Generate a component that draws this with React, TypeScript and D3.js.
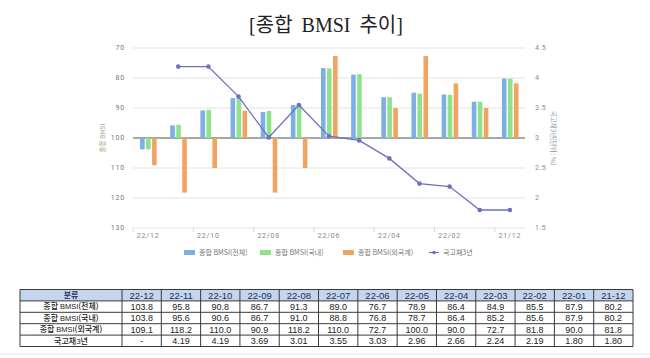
import React from 'react';
import * as d3 from 'd3';

const categories = ['22-12', '22-11', '22-10', '22-09', '22-08', '22-07', '22-06', '22-05', '22-04', '22-03', '22-02', '22-01', '21-12'];
const bmsiTotal = [103.8, 95.8, 90.8, 86.7, 91.3, 89.0, 76.7, 78.9, 86.4, 84.9, 85.5, 87.9, 80.2];
const bmsiDomestic = [103.8, 95.6, 90.6, 86.7, 91.0, 88.8, 76.8, 78.7, 86.4, 85.2, 85.6, 87.9, 80.2];
const bmsiForeign = [109.1, 118.2, 110.0, 90.9, 118.2, 110.0, 72.7, 100.0, 90.0, 72.7, 81.8, 90.0, 81.8];
const bond3y: (number | null)[] = [null, 4.19, 4.19, 3.69, 3.01, 3.55, 3.03, 2.96, 2.66, 2.24, 2.19, 1.80, 1.80];
const leftTicks = [70, 80, 90, 100, 110, 120, 130];
const rightTicks = [4.5, 4, 3.5, 3, 2.5, 2, 1.5];
const seriesNames = ['종합 BMSI(전체)', '종합 BMSI(국내)', '종합 BMSI(외국계)', '국고채3년'];
const rowSuffixes = ['(전체)', '(국내)', '(외국계)'];

const COLORS = ['#7dafe3', '#8fe28a', '#f0a462'];
const LINE_COLOR = '#6e6fc8';

export default function App() {
  const x = d3.scaleBand<string>().domain(categories).range([133, 525]).padding(0);
  const yL = d3.scaleLinear().domain([70, 130]).range([48, 228]);
  const yR = d3.scaleLinear().domain([4.5, 1.5]).range([48, 228]);
  const bw = x.bandwidth();
  const cx = (c: string) => (x(c) as number) + bw / 2;
  const barW = 4.6;
  const barStep = 6;
  const series = [bmsiTotal, bmsiDomestic, bmsiForeign];

  const linePts = categories
    .map((c, i) => ({ c, v: bond3y[i] }))
    .filter((d) => d.v !== null) as { c: string; v: number }[];
  const line = d3
    .line<{ c: string; v: number }>()
    .x((d) => cx(d.c))
    .y((d) => yR(d.v));

  // table
  const colX = d3.scaleBand<string>().domain(categories).range([122, 633]).padding(0);
  const rowKeys = ['h', 'r0', 'r1', 'r2', 'r3'];
  const tTop = 289.5;
  const tBot = 346.5;
  const rowY = d3.scaleBand<string>().domain(rowKeys).range([tTop, tBot]).padding(0);
  const rh = rowY.bandwidth();
  const tableRows: string[][] = [
    bmsiTotal.map((v) => v.toFixed(1)),
    bmsiDomestic.map((v) => v.toFixed(1)),
    bmsiForeign.map((v) => v.toFixed(1)),
    bond3y.map((v) => (v === null ? '-' : v.toFixed(2))),
  ];

  const tickFont = 'Roboto, "Noto Sans", sans-serif';
  const legendX = [184, 260, 343];
  const legendTextX = [199, 275, 358];

  return (
    <svg
      width={650}
      height={358}
      style={{ position: 'absolute', left: 0, top: 0, background: '#fff' }}
      fontFamily='"Noto Sans CJK KR", sans-serif'
    >
      <rect x={0} y={0} width={650} height={358} fill="#fff" />
      {/* title */}
      <text x={326} y={32} textAnchor="middle" fontSize={20} wordSpacing={4} fill="#222" fontFamily='"Liberation Serif", "Noto Sans CJK KR", serif'>
        [종합 BMSI 추이]
      </text>

      {/* gridlines */}
      {leftTicks.map((t) => (
        <line key={'g' + t} x1={133} x2={525} y1={yL(t)} y2={yL(t)} stroke={t === 100 ? '#8a8a8a' : '#e3e3e3'} strokeWidth={t === 100 ? 1.6 : 1} />
      ))}
      {/* x ticks */}
      {categories.map((c, i) =>
        i % 2 === 1 ? (
          <line key={'xt' + c} x1={(x(c) as number) + bw} x2={(x(c) as number) + bw} y1={228} y2={232} stroke="#d8d8d8" />
        ) : null
      )}
      <line x1={133} x2={133} y1={228} y2={232} stroke="#d8d8d8" />

      {/* left ticks */}
      {leftTicks.map((t) => (
        <text key={'l' + t} x={125} y={yL(t)} dy="0.35em" textAnchor="end" fontSize={7} letterSpacing={0.8} fill="#777" fontFamily={tickFont}>
          {t}
        </text>
      ))}
      {/* right ticks */}
      {rightTicks.map((t) => (
        <text key={'r' + t} x={535} y={yR(t)} dy="0.35em" textAnchor="start" fontSize={7} letterSpacing={0.5} fill="#888" fontFamily={tickFont}>
          {t}
        </text>
      ))}
      <text transform="translate(105,138) rotate(-90)" textAnchor="middle" fontSize={6.5} fill="#a9a37a">
        종합 BMSI
      </text>
      <text transform="translate(551,138) rotate(90)" textAnchor="middle" fontSize={6.5} fill="#8d9bab">
        국고채3년(단위 : %)
      </text>

      {/* x labels */}
      {categories.map((c, i) =>
        i % 2 === 0 ? (
          <text key={'xl' + c} x={cx(c)} y={238} textAnchor="middle" fontSize={7} letterSpacing={0.8} fill="#888" fontFamily={tickFont}>
            {c.replace('-', '/')}
          </text>
        ) : null
      )}

      {/* bars */}
      {series.map((s, si) =>
        s.map((v, i) => {
          const c = categories[i];
          const x0 = cx(c) - 8 + si * barStep;
          const y0 = Math.min(yL(v), yL(100));
          const h = Math.abs(yL(v) - yL(100));
          return <rect key={si + '-' + i} x={x0} y={y0} width={barW} height={h} fill={COLORS[si]} />;
        })
      )}

      {/* line */}
      <path d={line(linePts) || ''} fill="none" stroke={LINE_COLOR} strokeWidth={1.3} />
      {linePts.map((d) => (
        <circle key={'p' + d.c} cx={cx(d.c)} cy={yR(d.v)} r={2.3} fill={LINE_COLOR} />
      ))}

      {/* legend */}
      {[0, 1, 2].map((i) => (
        <g key={'lg' + i}>
          <rect x={legendX[i]} y={250} width={11} height={5} fill={COLORS[i]} />
          <text x={legendTextX[i]} y={255} fontSize={7} fill="#777">
            {seriesNames[i]}
          </text>
        </g>
      ))}
      <line x1={429} x2={439} y1={252.5} y2={252.5} stroke={LINE_COLOR} strokeWidth={1.2} />
      <circle cx={434} cy={252.5} r={1.8} fill={LINE_COLOR} />
      <text x={443} y={255} fontSize={7} fill="#777">
        {seriesNames[3]}
      </text>

      {/* table */}
      <rect x={20} y={rowY('h') as number} width={613} height={rh} fill="#c5d5ee" />
      {rowKeys.map((k) => (
        <line key={'hl' + k} x1={20} x2={633} y1={(rowY(k) as number) + rh} y2={(rowY(k) as number) + rh} stroke="#3a3a3a" strokeWidth={1} />
      ))}
      <line x1={20} x2={633} y1={tTop} y2={tTop} stroke="#3a3a3a" />
      <line x1={20} x2={20} y1={tTop} y2={tBot} stroke="#3a3a3a" />
      {categories.map((c) => (
        <line key={'vl' + c} x1={colX(c) as number} x2={colX(c) as number} y1={tTop} y2={tBot} stroke="#3a3a3a" />
      ))}
      <line x1={633} x2={633} y1={tTop} y2={tBot} stroke="#3a3a3a" />
      <line x1={0} x2={650} y1={354} y2={354} stroke="#e6e6e6" />

      <text x={71} y={(rowY('h') as number) + rh / 2} dy="0.36em" textAnchor="middle" fontSize={8} fontWeight="bold" fill="#1e2f55">
        분류
      </text>
      {categories.map((c) => (
        <text
          key={'th' + c}
          x={(colX(c) as number) + colX.bandwidth() / 2}
          y={(rowY('h') as number) + rh / 2}
          dy="0.36em"
          textAnchor="middle"
          fontSize={9.5}
          fill="#1e2f55"
          fontFamily='"Liberation Sans", Arial, sans-serif'
        >
          {c}
        </text>
      ))}
      {[0, 1, 2].map((r) => (
        <text key={'rl' + r} x={71} y={(rowY(rowKeys[r + 1]) as number) + rh / 2} dy="0.36em" textAnchor="middle" fontSize={8} fontWeight={500} fill="#222">
          <tspan>종합 </tspan>
          <tspan fontSize={7.5} fontFamily='"Liberation Sans", Arial, sans-serif'>BMSI</tspan>
          <tspan>{rowSuffixes[r]}</tspan>
        </text>
      ))}
      <text x={71} y={(rowY('r3') as number) + rh / 2} dy="0.36em" textAnchor="middle" fontSize={8} fontWeight={500} fill="#222">
        국고채<tspan fontSize={8} fontFamily='"Liberation Sans", Arial, sans-serif'>3</tspan>년
      </text>
      {tableRows.map((row, r) =>
        row.map((v, i) => (
          <text
            key={'td' + r + '-' + i}
            x={(colX(categories[i]) as number) + colX.bandwidth() / 2}
            y={(rowY(rowKeys[r + 1]) as number) + rh / 2}
            dy="0.36em"
            textAnchor="middle"
            fontSize={9}
            fill="#222"
            fontFamily='"Liberation Sans", Arial, sans-serif'
          >
            {v}
          </text>
        ))
      )}
    </svg>
  );
}
